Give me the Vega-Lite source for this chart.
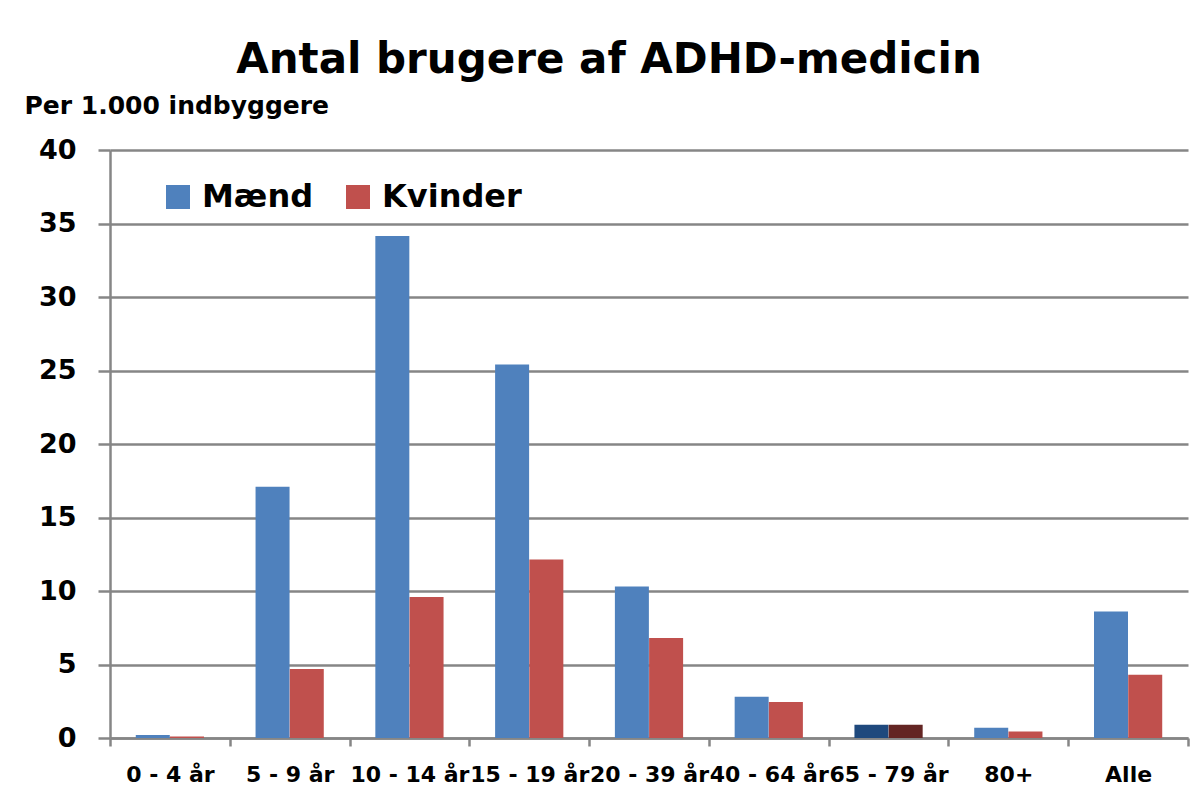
{
  "$schema": "https://vega.github.io/schema/vega-lite/v6.json",
  "autosize": "none",
  "width": 1078,
  "height": 588,
  "padding": {"left": 110, "top": 150, "right": 8, "bottom": 58},
  "background": "white",
  "config": {
    "view": {"stroke": null},
    "font": "DejaVu Sans"
  },
  "title": {
    "text": "Antal brugere af ADHD-medicin",
    "fontSize": 42,
    "fontWeight": "bold",
    "font": "DejaVu Sans",
    "color": "#000000",
    "anchor": "middle",
    "frame": "group",
    "dx": -40,
    "offset": 11
  },
  "data": {
    "values": [
      {"alder": "0 - 4 år", "køn": "Mænd", "værdi": 0.2},
      {"alder": "0 - 4 år", "køn": "Kvinder", "værdi": 0.1},
      {"alder": "5 - 9 år", "køn": "Mænd", "værdi": 17.1},
      {"alder": "5 - 9 år", "køn": "Kvinder", "værdi": 4.7},
      {"alder": "10 - 14 år", "køn": "Mænd", "værdi": 34.15},
      {"alder": "10 - 14 år", "køn": "Kvinder", "værdi": 9.6},
      {"alder": "15 - 19 år", "køn": "Mænd", "værdi": 25.4},
      {"alder": "15 - 19 år", "køn": "Kvinder", "værdi": 12.15},
      {"alder": "20 - 39 år", "køn": "Mænd", "værdi": 10.3},
      {"alder": "20 - 39 år", "køn": "Kvinder", "værdi": 6.8},
      {"alder": "40 - 64 år", "køn": "Mænd", "værdi": 2.8},
      {"alder": "40 - 64 år", "køn": "Kvinder", "værdi": 2.45},
      {"alder": "65 - 79 år", "køn": "Mænd", "værdi": 0.9},
      {"alder": "65 - 79 år", "køn": "Kvinder", "værdi": 0.9},
      {"alder": "80+", "køn": "Mænd", "værdi": 0.7},
      {"alder": "80+", "køn": "Kvinder", "værdi": 0.45},
      {"alder": "Alle", "køn": "Mænd", "værdi": 8.6},
      {"alder": "Alle", "køn": "Kvinder", "værdi": 4.3}
    ]
  },
  "mark": {"type": "bar", "width": 34},
  "encoding": {
    "x": {
      "field": "alder",
      "type": "nominal",
      "sort": null,
      "scale": {"paddingInner": 0, "paddingOuter": 0},
      "axis": {
        "title": null,
        "labelAngle": 0,
        "labelFontSize": 22,
        "labelFontWeight": "bold",
        "labelColor": "#000000",
        "labelFont": "DejaVu Sans",
        "labelPadding": 18,
        "labelOverlap": false,
        "tickBand": "extent",
        "tickSize": 8,
        "tickWidth": 2.5,
        "tickColor": "#868686",
        "domainColor": "#868686",
        "domainWidth": 2.5,
        "grid": false
      }
    },
    "xOffset": {
      "field": "køn",
      "type": "nominal",
      "sort": ["Mænd", "Kvinder"],
      "scale": {"paddingInner": 0, "paddingOuter": 0.75}
    },
    "y": {
      "field": "værdi",
      "type": "quantitative",
      "scale": {"domain": [0, 40], "nice": false},
      "axis": {
        "title": "Per 1.000 indbyggere",
        "titleAngle": 0,
        "titleAlign": "left",
        "titleBaseline": "alphabetic",
        "titleX": -86,
        "titleY": -37,
        "titleFontSize": 25,
        "titleFontWeight": "bold",
        "titleColor": "#000000",
        "titleFont": "DejaVu Sans",
        "values": [0, 5, 10, 15, 20, 25, 30, 35, 40],
        "labelFontSize": 27,
        "labelFontWeight": "bold",
        "labelColor": "#000000",
        "labelFont": "DejaVu Sans",
        "labelPadding": 22,
        "tickSize": 12,
        "tickWidth": 2.5,
        "tickColor": "#868686",
        "domainColor": "#868686",
        "domainWidth": 2.5,
        "grid": true,
        "gridColor": "#868686",
        "gridWidth": 2.5
      }
    },
    "color": {
      "condition": [
        {"test": "datum['alder'] === '65 - 79 år' && datum['køn'] === 'Mænd'", "value": "#1F497D"},
        {"test": "datum['alder'] === '65 - 79 år' && datum['køn'] === 'Kvinder'", "value": "#632523"}
      ],
      "field": "køn",
      "type": "nominal",
      "sort": ["Mænd", "Kvinder"],
      "scale": {"domain": ["Mænd", "Kvinder"], "range": ["#4F81BD", "#C0504D"]},
      "legend": {
        "title": null,
        "orient": "none",
        "direction": "horizontal",
        "legendX": 52,
        "legendY": 31,
        "symbolType": "square",
        "symbolSize": 576,
        "symbolStrokeWidth": 0,
        "labelFontSize": 32,
        "labelFontWeight": "bold",
        "labelColor": "#000000",
        "labelFont": "DejaVu Sans",
        "labelOffset": 8,
        "columnPadding": 28
      }
    }
  }
}
